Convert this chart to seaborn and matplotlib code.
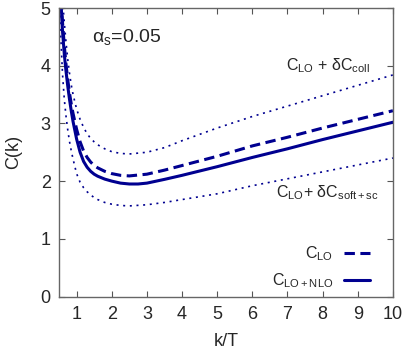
import numpy as np
import matplotlib
matplotlib.use("Agg")
import matplotlib.pyplot as plt
import seaborn as sb

# values
k_nlo = [0.56, 0.6, 0.65, 0.7, 0.75, 0.8, 0.85, 0.9, 1.0, 1.1, 1.2, 1.3, 1.4, 1.5, 1.6, 1.8,
         2.0, 2.25, 2.5, 2.75, 3.0, 3.5, 4.0, 5.0, 6.0, 7.0, 8.0, 9.0, 10.0]
c_nlo = [5.05, 4.6, 4.2, 3.9, 3.64, 3.41, 3.21, 3.03, 2.73, 2.5, 2.34, 2.24, 2.17, 2.12, 2.085, 2.035,
         2.0, 1.965, 1.95, 1.95, 1.965, 2.03, 2.10, 2.25, 2.41, 2.56, 2.72, 2.87, 3.02]

k_lo = [0.56, 0.6, 0.65, 0.7, 0.75, 0.8, 0.85, 0.9, 1.0, 1.1, 1.2, 1.3, 1.4, 1.5, 1.6, 1.8,
        2.0, 2.25, 2.5, 3.0, 3.5, 4.0, 5.0, 6.0, 7.0, 8.0, 9.0, 10.0]
c_lo = [5.15, 4.75, 4.35, 4.02, 3.75, 3.52, 3.33, 3.17, 2.9, 2.68, 2.52, 2.41, 2.33, 2.27, 2.23, 2.17,
        2.13, 2.1, 2.09, 2.12, 2.19, 2.27, 2.43, 2.61, 2.76, 2.92, 3.07, 3.22]

k_coll = [0.6, 0.65, 0.7, 0.75, 0.8, 0.85, 0.9, 1.0, 1.1, 1.2, 1.3, 1.4, 1.5, 1.6, 1.8,
          2.0, 2.25, 2.5, 3.0, 3.5, 4.0, 5.0, 6.0, 7.0, 8.0, 9.0, 10.0]
c_coll = [5.15, 4.75, 4.4, 4.1, 3.86, 3.66, 3.5, 3.25, 3.07, 2.93, 2.82, 2.74, 2.68, 2.63, 2.56,
          2.51, 2.48, 2.47, 2.5, 2.58, 2.7, 2.92, 3.12, 3.3, 3.48, 3.66, 3.84]

k_soft = [0.52, 0.55, 0.6, 0.65, 0.7, 0.75, 0.8, 0.85, 0.9, 1.0, 1.1, 1.2, 1.3, 1.4, 1.5, 1.6, 1.8,
          2.0, 2.25, 2.5, 3.0, 3.5, 4.0, 5.0, 6.0, 7.0, 8.0, 9.0, 10.0]
c_soft = [5.1, 4.5, 3.85, 3.42, 3.12, 2.88, 2.68, 2.52, 2.38, 2.13, 1.98, 1.885, 1.815, 1.76, 1.715, 1.68, 1.63,
          1.60, 1.578, 1.57, 1.59, 1.63, 1.68, 1.78, 1.92, 2.04, 2.16, 2.28, 2.40]

x_ticks = [1, 2, 3, 4, 5, 6, 7, 8, 9, 10]
y_ticks = [0, 1, 2, 3, 4, 5]

sb.set_theme(style="ticks")
plt.rcParams['font.family'] = ['Liberation Sans', 'DejaVu Sans']
plt.rcParams['mathtext.fontset'] = 'custom'
plt.rcParams['mathtext.rm'] = 'Liberation Sans'
plt.rcParams['mathtext.it'] = 'Liberation Sans:italic'

blue = '#000090'

fig = plt.figure(figsize=(4.11, 3.54), dpi=100)
ax = fig.add_axes([0.1436, 0.1624, 0.8124, 0.8150])

# the two dotted bands
sb.lineplot(x=k_coll, y=c_coll, ax=ax, color=blue, lw=1.2)
ax.lines[-1].set_dashes((1.2, 2.8))
sb.lineplot(x=k_soft, y=c_soft, ax=ax, color=blue, lw=1.2)
ax.lines[-1].set_dashes((1.2, 2.8))

# LO (dashed) and LO+NLO (solid)
sb.lineplot(x=k_lo, y=c_lo, ax=ax, color=blue, lw=2.2, label=r'C$_{\mathrm{LO}}$')
ax.lines[-1].set_dashes((3.4, 1.8))
sb.lineplot(x=k_nlo, y=c_nlo, ax=ax, color=blue, lw=2.2, label=r'C$_{\mathrm{LO+NLO}}$')

ax.set_xlim(0.5, 10)
ax.set_ylim(0, 5)
ax.set_xticks(x_ticks)
ax.set_yticks(y_ticks)
ax.tick_params(direction='in', top=True, right=True, length=4, width=0.8,
               labelsize=13, color='#555555')
ax.tick_params(axis='x', pad=7)
ax.tick_params(axis='y', pad=6)
for s in ax.spines.values():
    s.set_color('#666666')
    s.set_linewidth(1.0)
ax.set_xlabel('k/T', fontsize=13, labelpad=7)
ax.set_ylabel('C(k)', fontsize=13, labelpad=13)

ax.text(1.45, 4.5, r'α$_{\mathrm{s}}$=0.05', fontsize=14, va='center', ha='left')
ax.text(9.35, 4.0, r'C$_{\mathrm{LO}}$ + δC$_{\mathrm{coll}}$', fontsize=11.5,
        va='center', ha='right')
ax.text(9.6, 1.8, r'C$_{\mathrm{LO}}$+ δC$_{\mathrm{soft+sc}}$', fontsize=11.5,
        va='center', ha='right')

leg = ax.legend(loc='lower right', bbox_to_anchor=(0.94, 0.012), frameon=False,
                markerfirst=False, fontsize=11.5, handlelength=1.6, borderaxespad=0,
                handletextpad=0.7, labelspacing=0.5, borderpad=0.2)

fig.savefig('out.png', dpi=100)
